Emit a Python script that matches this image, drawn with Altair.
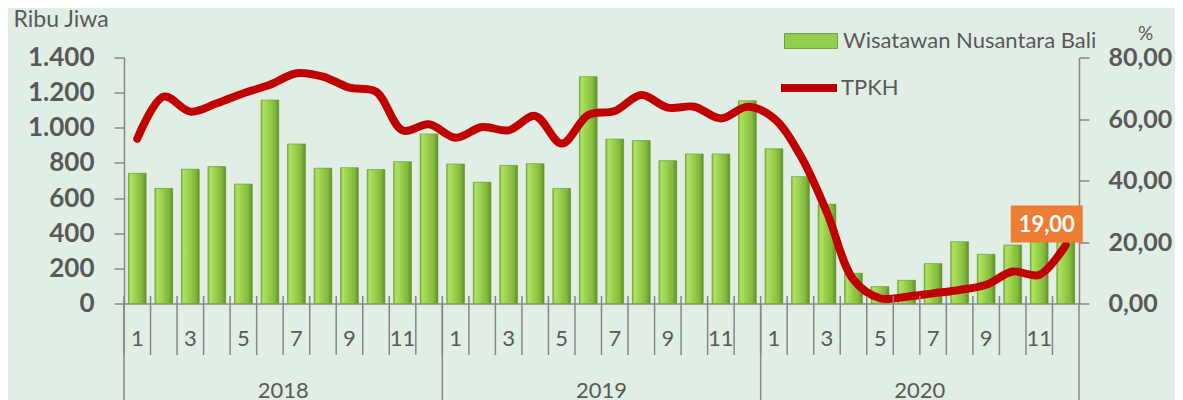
import altair as alt
import pandas as pd

# ---- data ----
month_idx = list(range(36))  # Jan 2018 .. Dec 2020
visitors = [741, 655, 764, 779, 680, 1158, 908, 770, 773, 762, 807, 965,
            794, 690, 786, 796, 655, 1291, 936, 927, 813, 851, 851, 1154,
            880, 722, 565, 172, 96, 132, 227, 352, 280, 333, 370, 395]
tpkh = [53.6, 67.3, 62.4, 65.1, 68.4, 71.1, 74.9, 73.8, 70.2, 68.9, 56.3, 58.3,
        53.9, 57.4, 56.3, 61.0, 52.0, 61.3, 62.6, 67.8, 63.7, 64.0, 60.2, 64.0,
        60.2, 48.1, 29.6, 7.7, 1.7, 2.2, 3.3, 4.4, 6.1, 10.4, 9.3, 19.0]
years = ["2018", "2019", "2020"]
year_mid_idx = [6, 18, 30]
year_start_idx = [0, 12, 24]
year_end_idx = [35]
bar_name = "Wisatawan Nusantara Bali"
line_name = "TPKH"
left_ticks = [0, 200, 400, 600, 800, 1000, 1200, 1400]
right_ticks = [0, 20, 40, 60, 80]

df = pd.DataFrame({"idx": month_idx, "visitors": visitors, "tpkh": tpkh,
                   "bar_series": bar_name, "line_series": line_name})

FONT = "Lato"
TXT = "#595959"
AX = "#868686"
W, H = 955, 246

xscale = alt.Scale(paddingInner=0, paddingOuter=0)
x_axis = alt.Axis(title=None, labelAngle=0, ticks=False, tickSize=0, bandPosition=0.5,
                  labelExpr="(datum.value % 12) % 2 == 0 ? toString(datum.value % 12 + 1) : ''",
                  labelOverlap=False, labelPadding=34.5, labelBaseline="middle", labelAlign="center",
                  labelFont=FONT, labelFontSize=22, labelColor=TXT,
                  domainColor=AX, domainWidth=1.5, grid=False)

yl_scale = alt.Scale(domain=[0, 1400], nice=False, zero=True)
yr_scale = alt.Scale(domain=[0, 80], nice=False, zero=True)

y_left_axis = alt.Axis(values=left_ticks, grid=False, tickSize=10, tickColor=AX, tickWidth=1.5,
                       domainColor=AX, domainWidth=1.5, labelPadding=20, labelOverlap=False,
                       labelExpr="replace(format(datum.value, ','), ',', '.')",
                       labelFont=FONT, labelFontSize=26, labelFontWeight="bold", labelColor=TXT,
                       labelBaseline="middle", labelBound=False,
                       title="Ribu Jiwa", titleAngle=0, titleX=-111, titleY=-31,
                       titleAlign="left", titleBaseline="alphabetic",
                       titleFont=FONT, titleFontSize=23, titleFontWeight="normal", titleColor=TXT)
y_right_axis = alt.Axis(values=right_ticks, grid=False, tickSize=10, tickColor=AX, tickWidth=1.5,
                        domainColor=AX, domainWidth=1.5, labelPadding=19, orient="right",
                        labelOverlap=False,
                        labelExpr="replace(format(datum.value, '.2f'), '.', ',')",
                        labelFont=FONT, labelFontSize=25, labelFontWeight="bold", labelColor=TXT,
                        labelBaseline="middle",
                        title="%", titleAngle=0, titleX=66, titleY=-18,
                        titleAlign="center", titleBaseline="alphabetic",
                        titleFont=FONT, titleFontSize=19, titleFontWeight="normal", titleColor=TXT)

base = alt.Chart(df)

# month boundary ticks
month_ticks = alt.Chart(pd.DataFrame({"idx": month_idx})).mark_rule(
    color=AX, strokeWidth=1.5).encode(
    x=alt.X("idx:O", bandPosition=0, scale=xscale),
    y=alt.value(H - 7.5), y2=alt.value(H + 51.5))

year_rules = alt.Chart(pd.DataFrame({"idx": year_start_idx})).mark_rule(
    color=AX, strokeWidth=1.5).encode(
    x=alt.X("idx:O", bandPosition=0, scale=xscale),
    y=alt.value(H), y2=alt.value(H + 100))
year_end_rule = alt.Chart(pd.DataFrame({"idx": year_end_idx})).mark_rule(
    color=AX, strokeWidth=1.5).encode(
    x=alt.X("idx:O", bandPosition=1, scale=xscale),
    y=alt.value(H), y2=alt.value(H + 100))

year_text = alt.Chart(pd.DataFrame({"idx": year_mid_idx, "year": years})).mark_text(
    font=FONT, fontSize=22, color=TXT, baseline="middle", align="center").encode(
    x=alt.X("idx:O", bandPosition=0, scale=xscale),
    y=alt.value(H + 87), text="year:N")

bars_base = base.mark_bar(width={"band": 0.67}).encode(
    x=alt.X("idx:O", scale=xscale, axis=x_axis),
    y=alt.Y("visitors:Q", scale=yl_scale, axis=y_left_axis),
    fill=alt.Fill("bar_series:N", scale=alt.Scale(range=["#92D050"]),
                  legend=alt.Legend(title=None, orient="none", legendX=660, legendY=-43.5,
                                    padding=0, symbolType="M-1,-0.28H1V0.28H-1Z",
                                    symbolSize=2809, symbolStrokeColor="#5E8C2A",
                                    symbolStrokeWidth=0.8, symbolOpacity=1, labelOffset=5,
                                    labelFont=FONT, labelFontSize=22, labelColor=TXT,
                                    labelLimit=400)))

grad = alt.Gradient(gradient="linear", x1=0, x2=1, y1=0, y2=0, stops=[
    alt.GradientStop(offset=0, color="#7DB23A"),
    alt.GradientStop(offset=0.12, color="#AEE262"),
    alt.GradientStop(offset=0.4, color="#9AD24D"),
    alt.GradientStop(offset=0.78, color="#82B83D"),
    alt.GradientStop(offset=1, color="#5F8F2A")])
bars_grad = base.mark_bar(width={"band": 0.67}, color=grad, stroke="#6A9A34",
                          strokeWidth=0.6, opacity=1).encode(
    x=alt.X("idx:O", scale=xscale, axis=x_axis),
    y=alt.Y("visitors:Q", scale=yl_scale, axis=y_left_axis))

left = alt.layer(bars_base, bars_grad)

line = base.mark_line(interpolate="catmull-rom", strokeWidth=8, strokeCap="round",
                      strokeJoin="round").encode(
    x=alt.X("idx:O", scale=xscale),
    y=alt.Y("tpkh:Q", scale=yr_scale, axis=y_right_axis),
    stroke=alt.Stroke("line_series:N", scale=alt.Scale(range=["#C00000"]),
                      legend=alt.Legend(title=None, orient="none", legendX=653, legendY=-1.5,
                                        padding=0, symbolType="stroke", symbolSize=3136,
                                        symbolStrokeWidth=8, labelOffset=0,
                                        labelFont=FONT, labelFontSize=22, labelColor=TXT)))

last = base.transform_filter(alt.datum.idx == month_idx[-1]).transform_calculate(
    lbl="replace(format(datum.tpkh, '.2f'), '.', ',')")
box = last.mark_point(shape="M-1,-0.514H1V0.514H-1Z", size=72 * 72, filled=True,
                      fill="#ED7D31", opacity=1, strokeWidth=0,
                      xOffset=-19, yOffset=-21).encode(
    x=alt.X("idx:O", scale=xscale),
    y=alt.Y("tpkh:Q", scale=yr_scale))
box_text = last.mark_text(font=FONT, fontSize=22, fontWeight="bold", color="white",
                          align="center", baseline="middle", xOffset=-19, yOffset=-20).encode(
    x=alt.X("idx:O", scale=xscale),
    y=alt.Y("tpkh:Q", scale=yr_scale),
    text="lbl:N")

right = alt.layer(line, box, box_text)

chart = alt.layer(left, right, month_ticks, year_rules, year_end_rule, year_text).resolve_scale(
    y="independent", fill="independent", stroke="independent"
).properties(
    width=W, height=H,
    autosize=alt.AutoSizeParams(type="none"),
    padding={"left": 116, "top": 49.5, "right": 96, "bottom": 96.5},
    background="#E1EEE5",
).configure_view(stroke=None).configure_axis(labelOverlap=False)

chart.save("out.html", embed_options={"renderer": "svg", "actions": False})
